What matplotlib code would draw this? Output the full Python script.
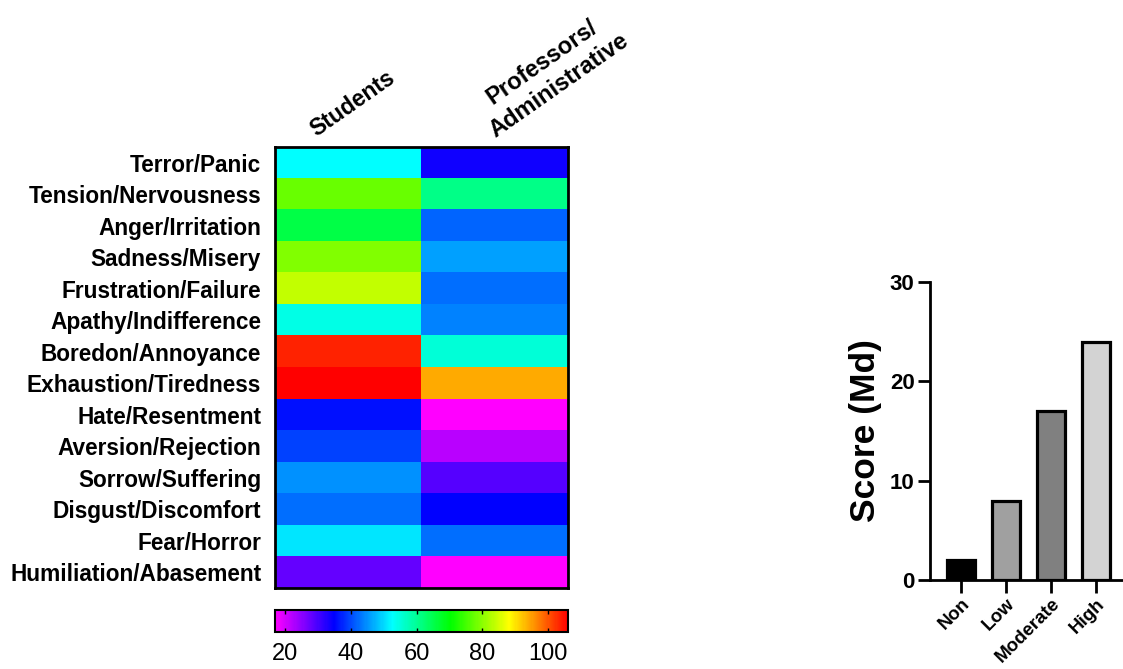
import numpy as np
import matplotlib
matplotlib.use("Agg")
import matplotlib.pyplot as plt
import matplotlib.transforms as mtransforms
from matplotlib.colors import LinearSegmentedColormap

plt.rcParams['font.family'] = ['Liberation Sans', 'DejaVu Sans']

# -------------------- data --------------------
emotions = ["Terror/Panic", "Tension/Nervousness", "Anger/Irritation", "Sadness/Misery",
            "Frustration/Failure", "Apathy/Indifference", "Boredon/Annoyance",
            "Exhaustion/Tiredness", "Hate/Resentment", "Aversion/Rejection",
            "Sorrow/Suffering", "Disgust/Discomfort", "Fear/Horror", "Humiliation/Abasement"]
groups = ["Students", "Professors/\nAdministrative"]
students = [52.5, 77.5, 65.5, 79.5, 84, 54.5, 103.5, 106, 36, 39.5, 45, 42.5, 51, 28]
professors = [34, 61, 42, 46, 42.5, 44, 55.5, 94, 17, 22, 29, 35, 42.5, 17]

levels = ["Non", "Low", "Moderate", "High"]
scores = [2, 8, 17, 24]
bar_colors = ["#000000", "#A0A0A0", "#808080", "#D3D3D3"]

# rainbow: magenta -> blue -> cyan -> green -> yellow -> red
cmap = LinearSegmentedColormap.from_list(
    "rainbow_pm", ["#FF00FF", "#0000FF", "#00FFFF", "#00FF00", "#FFFF00", "#FF0000"])
vmin, vmax = 17, 106

fig = plt.figure(figsize=(11.23, 6.69), dpi=100)

# -------------------- heatmap --------------------
ax = fig.add_axes([0.2449, 0.1211, 0.2609, 0.6592])
data = np.column_stack([students, professors])
im = ax.imshow(data, cmap=cmap, vmin=vmin, vmax=vmax, aspect="auto", interpolation="nearest")
ax.set_yticks(range(len(emotions)))
ax.set_yticklabels(emotions, fontsize=16.3, fontweight="bold")
ax.set_xticks([])
ax.tick_params(axis="y", length=0, pad=10)
for s in ax.spines.values():
    s.set_linewidth(2)

# column headers, rotated
ax.text(-0.22, -0.82, groups[0], rotation=35, rotation_mode="anchor",
        ha="left", va="baseline", fontsize=16.5, fontweight="bold")
ax.text(0.98, -0.94, groups[1], rotation=35, rotation_mode="anchor",
        ha="left", va="baseline", fontsize=17, fontweight="bold",
        multialignment="center", linespacing=1.3)

# colorbar
cax = fig.add_axes([0.2449, 0.0553, 0.2609, 0.0329])
cb = fig.colorbar(im, cax=cax, orientation="horizontal", ticks=[20, 40, 60, 80, 100])
cb.outline.set_linewidth(1.5)
cax.tick_params(direction="in", top=True, bottom=True, length=3, width=1,
                labelsize=17, pad=8)

# -------------------- bar chart --------------------
bx = fig.add_axes([0.8281, 0.1330, 0.172, 0.4455])
x = np.arange(len(levels))
bx.bar(x, scores, width=0.62, color=bar_colors, edgecolor="black", linewidth=2.3, zorder=3)
bx.set_xlim(-0.7, 3.6)
bx.set_ylim(0, 30)
bx.set_yticks([0, 10, 20, 30])
bx.set_xticks(x)
bx.set_xticklabels(levels, rotation=45, ha="right", rotation_mode="anchor",
                   fontsize=13.5, fontweight="bold")
# nudge rotated labels right/up so the longest one stays inside the figure
shift = mtransforms.ScaledTranslation(7 / 100, 3 / 100, fig.dpi_scale_trans)
for lab in bx.get_xticklabels():
    lab.set_transform(lab.get_transform() + shift)
for lab in bx.get_yticklabels():
    lab.set_fontweight("bold")
bx.tick_params(axis="y", labelsize=16, width=2, length=9, pad=2)
bx.tick_params(axis="x", width=2, length=9, pad=2)
bx.spines["top"].set_visible(False)
bx.spines["right"].set_visible(False)
bx.spines["left"].set_linewidth(2)
bx.spines["bottom"].set_linewidth(2)
bx.set_ylabel("Score (Md)", fontsize=25.5, fontweight="bold", labelpad=6)

fig.savefig("out.png", dpi=100)
